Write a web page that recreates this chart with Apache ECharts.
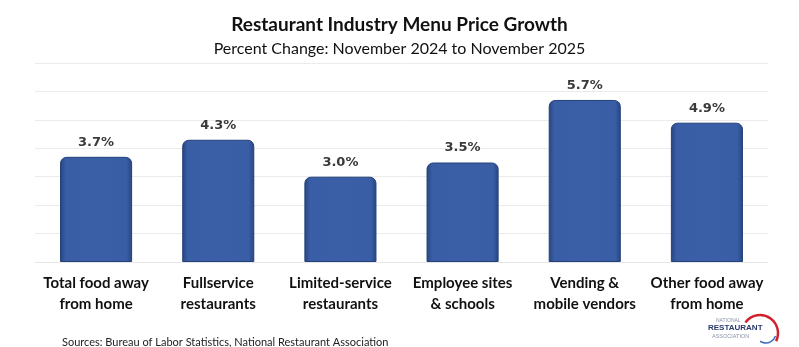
<!DOCTYPE html>
<html><head><meta charset="utf-8">
<script src="https://cdn.jsdelivr.net/npm/echarts@6/dist/echarts.min.js"></script>
<style>html,body{margin:0;padding:0;background:#fff}#c{width:799px;height:347px}</style>
</head><body><div id="c"></div>
<script>
const categories = ["Total food away\nfrom home","Fullservice\nrestaurants","Limited-service\nrestaurants","Employee sites\n& schools","Vending &\nmobile vendors","Other food away\nfrom home"];
const values = [3.7, 4.3, 3.0, 3.5, 5.7, 4.9];
const titleText = "Restaurant Industry Menu Price Growth";
const subtitleText = "Percent Change: November 2024 to November 2025";
const sourceText = "Sources: Bureau of Labor Statistics, National Restaurant Association";

const chart = echarts.init(document.getElementById('c'), null, {renderer:'canvas'});
const barColor = new echarts.graphic.LinearGradient(0,0,1,0,[
  {offset:0,color:'#27457f'},{offset:0.08,color:'#3a5ea6'},{offset:0.5,color:'#3b5fa6'},{offset:0.92,color:'#3a5ea6'},{offset:1,color:'#27457f'}
]);
chart.setOption({
  animation:false,
  title:[
    {text:titleText,left:'center',top:10,textStyle:{fontFamily:'Lato',fontWeight:'bold',fontSize:19,color:'#111'}},
    {text:subtitleText,left:'center',top:36,textStyle:{fontFamily:'Lato',fontWeight:'normal',fontSize:16,color:'#111'}}
  ],
  grid:{left:35,right:31,top:63,bottom:85,containLabel:false},
  xAxis:{type:'category',data:categories,
    axisLine:{show:true,lineStyle:{color:'#e6e6e6'}},axisTick:{show:false},
    axisLabel:{interval:0,fontFamily:'Lato',fontWeight:'bold',fontSize:15,color:'#111',lineHeight:21,margin:11}},
  yAxis:{type:'value',min:0,max:7,interval:1,axisLabel:{show:false},axisLine:{show:false},axisTick:{show:false},
    splitLine:{lineStyle:{color:'#ebebeb',width:1}}},
  series:[{type:'bar',data:values,barWidth:'59%',
    itemStyle:{color:barColor,borderRadius:[6,6,0,0],borderColor:'#24407a',borderWidth:1},
    label:{show:true,position:'top',distance:8,formatter:p=>p.value.toFixed(1)+'%',fontFamily:'DejaVu Sans',fontWeight:'bold',fontSize:13,color:'#3a3a3a'}
  }],
  graphic:[
    {type:'text',left:62,top:337,style:{text:sourceText,fontFamily:'Lato',fontSize:11,fill:'#222'}},
    {type:'text',left:716,top:318,style:{text:'NATIONAL',fontFamily:'Liberation Sans',fontSize:5,fill:'#8a94a8'}},
    {type:'text',left:708,top:324,style:{text:'RESTAURANT',fontFamily:'Liberation Sans',fontWeight:'bold',fontSize:8,fill:'#2a3a6a'}},
    {type:'text',left:712,top:333,style:{text:'ASSOCIATION',fontFamily:'Liberation Sans',fontSize:5.5,fill:'#8a94a8'}},
    {type:'arc',shape:{cx:760,cy:333,r:18,startAngle:-Math.PI*0.8,endAngle:Math.PI*0.15},style:{stroke:'#d0222e',lineWidth:2.5,fill:null}},
    {type:'arc',shape:{cx:766,cy:333,r:10,startAngle:Math.PI*0.1,endAngle:Math.PI*0.7},style:{stroke:'#3a6fc0',lineWidth:1.5,fill:null}}
  ]
});
</script></body></html>
